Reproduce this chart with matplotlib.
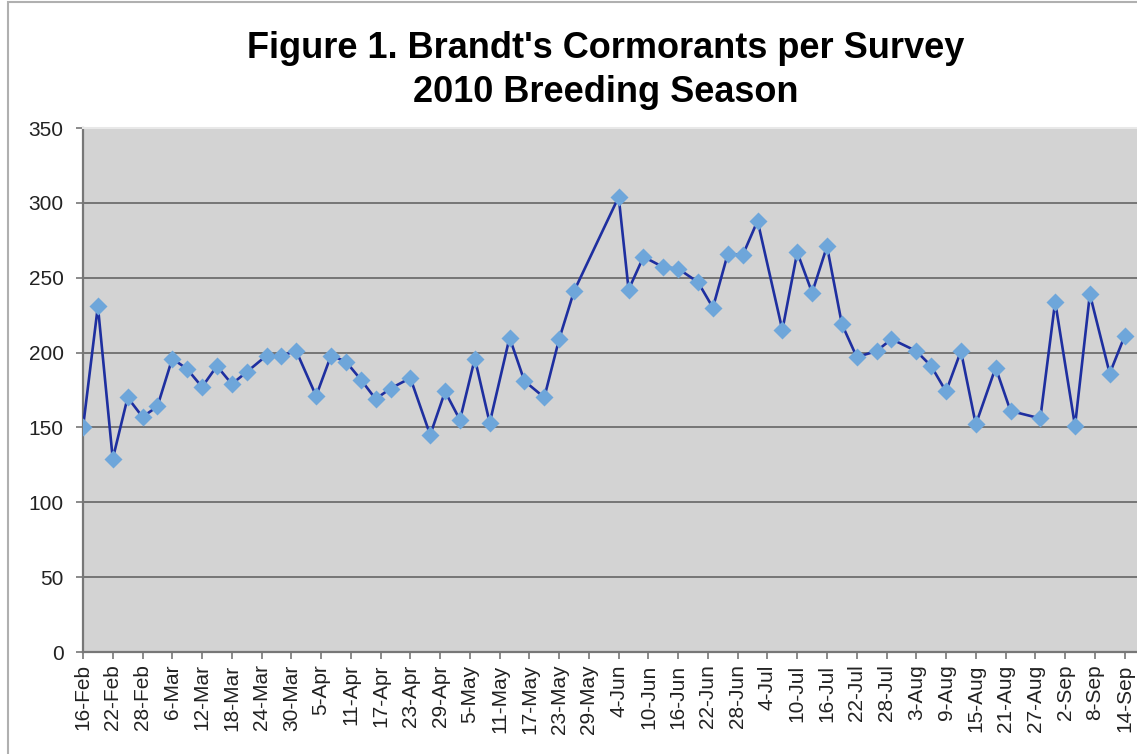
import matplotlib
matplotlib.use("Agg")
import matplotlib.pyplot as plt
import matplotlib.dates as mdates
import numpy as np
from matplotlib.patches import Rectangle

# survey dates (2010) and bird counts
survey_dates = [
    "2010-02-16", "2010-02-19", "2010-02-22", "2010-02-25", "2010-02-28",
    "2010-03-03", "2010-03-06", "2010-03-09", "2010-03-12", "2010-03-15",
    "2010-03-18", "2010-03-21", "2010-03-25", "2010-03-28", "2010-03-31",
    "2010-04-04", "2010-04-07", "2010-04-10", "2010-04-13", "2010-04-16",
    "2010-04-19", "2010-04-23", "2010-04-27", "2010-04-30", "2010-05-03",
    "2010-05-06", "2010-05-09", "2010-05-13", "2010-05-16", "2010-05-20",
    "2010-05-23", "2010-05-26", "2010-06-04", "2010-06-06", "2010-06-09",
    "2010-06-13", "2010-06-16", "2010-06-20", "2010-06-23", "2010-06-26",
    "2010-06-29", "2010-07-02", "2010-07-07", "2010-07-10", "2010-07-13",
    "2010-07-16", "2010-07-19", "2010-07-22", "2010-07-26", "2010-07-29",
    "2010-08-03", "2010-08-06", "2010-08-09", "2010-08-12", "2010-08-15",
    "2010-08-19", "2010-08-22", "2010-08-28", "2010-08-31", "2010-09-04",
    "2010-09-07", "2010-09-11", "2010-09-14",
]
cormorants = [
    150, 231, 129, 170, 157, 164, 196, 189, 177, 191,
    179, 187, 198, 198, 201, 171, 198, 194, 182, 169,
    176, 183, 145, 174, 155, 196, 153, 210, 181, 170,
    209, 241, 304, 242, 264, 257, 256, 247, 230, 266,
    265, 288, 215, 267, 240, 271, 219, 197, 201, 209,
    201, 191, 174, 201, 152, 190, 161, 156, 234, 151,
    239, 186, 211,
]
y_ticks = [0, 50, 100, 150, 200, 250, 300, 350]

title = "Figure 1. Brandt's Cormorants per Survey\n2010 Breeding Season"

dates = np.array(survey_dates, dtype="datetime64[D]")
x = mdates.date2num(dates.astype("datetime64[s]").astype(object))

plt.rcParams['font.family'] = ['Liberation Sans', 'DejaVu Sans']

W, H = 1137, 754
fig = plt.figure(figsize=(W / 100, H / 100), dpi=100)
fig.patch.set_facecolor("white")

# outer chart border (cropped on the right and bottom)
fig.patches.append(Rectangle((8 / W, -0.05), 1.2, (H - 2) / H + 0.05,
                             transform=fig.transFigure, fill=False,
                             edgecolor="#b0b0b0", linewidth=1.5))

ax = fig.add_axes([83 / W, (H - 652) / H, (W - 83) / W, (652 - 128) / H])
ax.set_facecolor("#d3d3d3")

ax.plot(x, cormorants, color="#1e2fa0", linewidth=1.9, zorder=3)
ax.plot(x, cormorants, linestyle="none", marker="D", markersize=9,
        markerfacecolor="#6ea6da", markeredgecolor="none", zorder=4)

start = mdates.date2num(np.datetime64("2010-02-16").astype(object))
ax.set_xlim(start, start + 212.5)
ax.set_ylim(0, 350)
ax.set_yticks(y_ticks)

ticks = [start + 6 * i for i in range(36)]
ax.set_xticks(ticks)
ax.xaxis.set_major_formatter(mdates.DateFormatter("%-d-%b"))
plt.setp(ax.get_xticklabels(), rotation=90)

ax.grid(axis="y", color="#6e6e6e", linewidth=1.3, zorder=1)
ax.set_axisbelow(True)

for s in ["left", "bottom"]:
    ax.spines[s].set_color("#777777")
    ax.spines[s].set_linewidth(1.6)
ax.spines["top"].set_color("#e8e8e8")
ax.spines["top"].set_linewidth(1.5)
ax.spines["right"].set_visible(False)

ax.tick_params(axis="both", direction="out", length=5, width=1.2,
               color="#777777", labelsize=15, labelcolor="#222222", pad=4)
ax.tick_params(axis="y", pad=9)

fig.text(0.533, 0.906, title, ha="center", va="center", fontsize=26,
         fontweight="bold", linespacing=1.33, color="black")

fig.savefig("out.png", dpi=100)
